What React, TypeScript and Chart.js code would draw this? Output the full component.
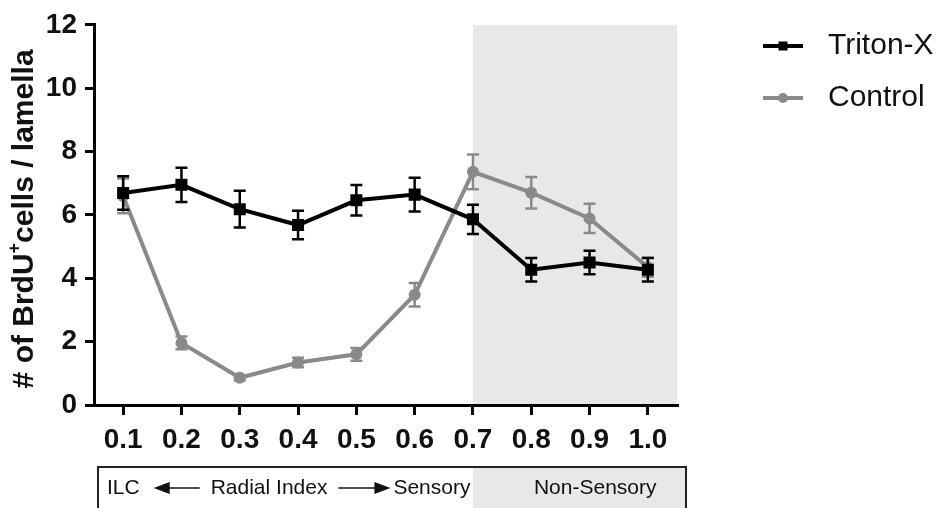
import React, { useEffect, useRef } from 'react';
import { Chart, registerables } from 'chart.js';

Chart.register(...registerables);

const xLabels = ['0.1', '0.2', '0.3', '0.4', '0.5', '0.6', '0.7', '0.8', '0.9', '1.0'];
const tritonValues = [6.69, 6.95, 6.18, 5.68, 6.46, 6.64, 5.86, 4.27, 4.5, 4.27];
const tritonErrors = [0.53, 0.54, 0.58, 0.45, 0.48, 0.53, 0.46, 0.37, 0.37, 0.37];
const controlValues = [6.6, 1.96, 0.86, 1.34, 1.6, 3.48, 7.36, 6.7, 5.89, 4.35];
const controlErrors = [0.55, 0.2, 0.08, 0.15, 0.2, 0.37, 0.55, 0.5, 0.46, 0.3];
const seriesNames = ['Triton-X', 'Control'];
const yMin = 0;
const yMax = 12;
const yStep = 2;
const shadedFromLabel = '0.7';
const yTitleParts = ['# of BrdU', '+', 'cells / lamella'];
const bandLeftText = 'ILC';
const bandMiddleText = 'Radial Index';
const bandRightText = 'Sensory';
const bandShadedText = 'Non-Sensory';

const FONT = '"Liberation Sans", Arial, Helvetica, sans-serif';
const BLACK = '#000000';
const GRAY = '#8a8a8a';
const SHADE = '#e8e8e8';

const shadePlugin = {
  id: 'shadeRegion',
  beforeDraw(chart: any) {
    const { ctx, chartArea, scales } = chart;
    const x0 = scales.x.getPixelForValue(xLabels.indexOf(shadedFromLabel));
    ctx.save();
    ctx.fillStyle = SHADE;
    ctx.fillRect(x0, chartArea.top, chartArea.right - x0, chartArea.bottom - chartArea.top);
    ctx.restore();
  },
};

const errorBarPlugin = {
  id: 'errorBars',
  afterDatasetDraw(chart: any, args: any) {
    const ds = chart.data.datasets[args.index];
    const errs: number[] = ds.errorValues;
    if (!errs) return;
    const { ctx, scales } = chart;
    const meta = args.meta;
    ctx.save();
    ctx.strokeStyle = ds.borderColor;
    ctx.lineWidth = 2.5;
    meta.data.forEach((pt: any, i: number) => {
      const v = ds.data[i];
      const e = errs[i];
      const yt = scales.y.getPixelForValue(v + e);
      const yb = scales.y.getPixelForValue(v - e);
      const x = pt.x;
      ctx.beginPath();
      ctx.moveTo(x, yt);
      ctx.lineTo(x, yb);
      ctx.moveTo(x - 6, yt);
      ctx.lineTo(x + 6, yt);
      ctx.moveTo(x - 6, yb);
      ctx.lineTo(x + 6, yb);
      ctx.stroke();
    });
    ctx.restore();
  },
};

const legendPlugin = {
  id: 'customLegend',
  afterDraw(chart: any) {
    const { ctx } = chart;
    const rows = [46, 98];
    chart.data.datasets.forEach((ds: any, i: number) => {
      const y = rows[i];
      ctx.save();
      ctx.strokeStyle = ds.borderColor;
      ctx.lineWidth = 4;
      ctx.beginPath();
      ctx.moveTo(763, y);
      ctx.lineTo(803, y);
      ctx.stroke();
      ctx.fillStyle = ds.borderColor;
      if (ds.pointStyle === 'rect') {
        ctx.fillRect(783 - 4.5, y - 4.5, 9, 9);
      } else {
        ctx.beginPath();
        ctx.arc(783, y, 5, 0, Math.PI * 2);
        ctx.fill();
      }
      ctx.fillStyle = '#111';
      ctx.font = `30px ${FONT}`;
      ctx.textBaseline = 'middle';
      ctx.textAlign = 'left';
      ctx.fillText(ds.label, 828, y);
      ctx.restore();
    });
  },
};

const yTitlePlugin = {
  id: 'yTitle',
  afterDraw(chart: any) {
    const { ctx, chartArea } = chart;
    const cy = (chartArea.top + chartArea.bottom) / 2 + 4;
    ctx.save();
    ctx.translate(25, cy);
    ctx.rotate(-Math.PI / 2);
    ctx.fillStyle = '#111';
    ctx.textBaseline = 'middle';
    ctx.textAlign = 'left';
    const big = `bold 30px ${FONT}`;
    const small = `bold 18px ${FONT}`;
    ctx.font = big;
    const w0 = ctx.measureText(yTitleParts[0]).width;
    const w2 = ctx.measureText(yTitleParts[2]).width;
    ctx.font = small;
    const w1 = ctx.measureText(yTitleParts[1]).width;
    let x = -(w0 + w1 + w2) / 2;
    ctx.font = big;
    ctx.fillText(yTitleParts[0], x, 0);
    x += w0;
    ctx.font = small;
    ctx.fillText(yTitleParts[1], x, -10);
    x += w1;
    ctx.font = big;
    ctx.fillText(yTitleParts[2], x, 0);
    ctx.restore();
  },
};

function drawArrow(ctx: any, x0: number, x1: number, y: number, pointLeft: boolean) {
  ctx.save();
  ctx.strokeStyle = '#111';
  ctx.fillStyle = '#111';
  ctx.lineWidth = 1.5;
  const head = 16;
  ctx.beginPath();
  if (pointLeft) {
    ctx.moveTo(x0 + head - 1, y);
    ctx.lineTo(x1, y);
  } else {
    ctx.moveTo(x0, y);
    ctx.lineTo(x1 - head + 1, y);
  }
  ctx.stroke();
  ctx.beginPath();
  if (pointLeft) {
    ctx.moveTo(x0, y);
    ctx.lineTo(x0 + head, y - 6);
    ctx.lineTo(x0 + head, y + 6);
  } else {
    ctx.moveTo(x1, y);
    ctx.lineTo(x1 - head, y - 6);
    ctx.lineTo(x1 - head, y + 6);
  }
  ctx.closePath();
  ctx.fill();
  ctx.restore();
}

const bandPlugin = {
  id: 'bottomBand',
  afterDraw(chart: any) {
    const { ctx, chartArea, scales } = chart;
    const left = chartArea.left + 4;
    const right = chartArea.right + 9;
    const top = 467;
    const bottom = 530;
    const xs = scales.x.getPixelForValue(xLabels.indexOf(shadedFromLabel));
    const ty = 488;
    ctx.save();
    ctx.fillStyle = '#ffffff';
    ctx.fillRect(left, top, right - left, bottom - top);
    ctx.fillStyle = SHADE;
    ctx.fillRect(xs, top, right - xs, bottom - top);
    ctx.strokeStyle = '#222';
    ctx.lineWidth = 2;
    ctx.strokeRect(left, top, right - left, bottom - top);
    ctx.fillStyle = '#111';
    ctx.font = `21px ${FONT}`;
    ctx.textBaseline = 'middle';
    ctx.textAlign = 'left';
    let x = left + 9;
    ctx.fillText(bandLeftText, x, ty);
    x += ctx.measureText(bandLeftText).width + 14;
    drawArrow(ctx, x, x + 46, ty, true);
    x += 46 + 11;
    ctx.fillText(bandMiddleText, x, ty);
    x += ctx.measureText(bandMiddleText).width + 11;
    drawArrow(ctx, x, x + 52, ty, false);
    x += 52 + 3;
    ctx.fillText(bandRightText, x, ty);
    ctx.fillText(bandShadedText, xs + 61, ty);
    ctx.restore();
  },
};

export default function App() {
  const ref = useRef<HTMLCanvasElement | null>(null);

  useEffect(() => {
    document.body.style.margin = '0';
    const canvas = ref.current;
    if (!canvas) return;
    const chart = new Chart(canvas, {
      type: 'line',
      data: {
        labels: xLabels,
        datasets: [
          {
            label: seriesNames[0],
            data: tritonValues,
            errorValues: tritonErrors,
            borderColor: BLACK,
            backgroundColor: BLACK,
            borderWidth: 4,
            pointStyle: 'rect',
            pointRadius: 8.5,
            pointHoverRadius: 8.5,
            pointBorderWidth: 0,
            tension: 0,
          } as any,
          {
            label: seriesNames[1],
            data: controlValues,
            errorValues: controlErrors,
            borderColor: GRAY,
            backgroundColor: GRAY,
            borderWidth: 4,
            pointStyle: 'circle',
            pointRadius: 6,
            pointHoverRadius: 6,
            pointBorderWidth: 0,
            tension: 0,
          } as any,
        ],
      },
      options: {
        responsive: false,
        animation: false,
        events: [],
        layout: { padding: { left: 0, right: 264, top: 18, bottom: 0 } },
        plugins: {
          legend: { display: false },
          tooltip: { enabled: false },
          title: { display: false },
        },
        scales: {
          x: {
            type: 'category',
            offset: true,
            grid: {
              offset: false,
              drawOnChartArea: false,
              drawTicks: true,
              tickLength: 10,
              color: BLACK,
              lineWidth: 3,
            },
            border: { display: true, color: BLACK, width: 3 },
            ticks: {
              color: '#111',
              padding: 8,
              maxRotation: 0,
              font: { family: FONT, size: 28, weight: 'bold' },
            },
            afterFit(scale: any) {
              scale.height = 103;
            },
          },
          y: {
            min: yMin,
            max: yMax,
            grid: {
              drawOnChartArea: false,
              drawTicks: true,
              tickLength: 9,
              color: BLACK,
              lineWidth: 3,
            },
            border: { display: true, color: BLACK, width: 3 },
            ticks: {
              stepSize: yStep,
              color: '#111',
              padding: 8,
              font: { family: FONT, size: 28, weight: 'bold' },
            },
            afterFit(scale: any) {
              scale.width = 94;
            },
          },
        },
      } as any,
      plugins: [shadePlugin, errorBarPlugin, legendPlugin, yTitlePlugin, bandPlugin],
    });
    return () => chart.destroy();
  }, []);

  return (
    <div style={{ width: 941, height: 508, background: '#fff' }}>
      <canvas ref={ref} width={941} height={508} style={{ display: 'block' }} />
    </div>
  );
}
